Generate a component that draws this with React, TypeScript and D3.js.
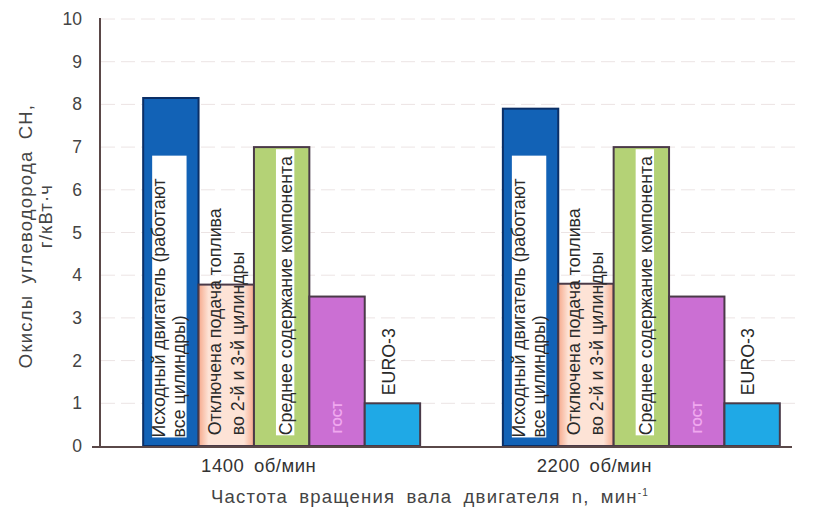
import * as d3 from 'd3';
import React from 'react';

// categories (rotation speed) and the five series per category
const categories = ['1400 об/мин', '2200 об/мин'];
const seriesKeys = ['base', 'cutoff', 'avg', 'gost', 'euro'];
const baseValues = [8.15, 7.9];
const cutoffValues = [3.78, 3.8];
const avgValues = [7.0, 7.0];
const gostValues = [3.5, 3.5];
const euroValues = [1.0, 1.0];
const yTicks = [0, 1, 2, 3, 4, 5, 6, 7, 8, 9, 10];
// category labels sit a bit left of the group centre in the original
const labelShift = [-23, -47];

const seriesValues: any = {
  base: baseValues,
  cutoff: cutoffValues,
  avg: avgValues,
  gost: gostValues,
  euro: euroValues,
};

const fills: any = {
  base: '#1262b6',
  cutoff: 'url(#peachGrad)',
  avg: '#b4d276',
  gost: '#cb6fd3',
  euro: '#1fa9e6',
};

const font = '"Liberation Sans", Arial, sans-serif';

const App = () => {
  const width = 814;
  const height = 516;
  const y = d3.scaleLinear().domain([0, 10]).range([446, 19]);
  const x0 = d3.scaleBand()
    .domain(categories)
    .range([100, 823])
    .paddingInner(0.23)
    .paddingOuter(0.12);
  const x1 = d3.scaleBand()
    .domain(seriesKeys)
    .range([0, x0.bandwidth()])
    .padding(0);

  return (
    <svg width={width} height={height} style={{ position: 'absolute', left: 0, top: 0 }}>
      <defs>
        <linearGradient id="peachGrad" x1="0" x2="1" y1="0" y2="0">
          <stop offset="0" stopColor="#f6a98c" />
          <stop offset="0.18" stopColor="#fde3d6" />
          <stop offset="0.82" stopColor="#fde3d6" />
          <stop offset="1" stopColor="#f6a98c" />
        </linearGradient>
      </defs>
      <rect x={0} y={0} width={width} height={height} fill="#ffffff" />

      {/* faint grid */}
      {yTicks.slice(1).map(t => (
        <line key={'g' + t} x1={101} x2={795} y1={y(t)} y2={y(t)}
          stroke="#ece4e4" strokeWidth={1} strokeDasharray="14 6" />
      ))}

      {/* bars */}
      {categories.map((c, ci) => (
        <g key={c} transform={`translate(${x0(c)},0)`}>
          {seriesKeys.map(k => {
            const v = seriesValues[k][ci];
            const bx = x1(k) as number;
            const bw = x1.bandwidth();
            return (
              <g key={k}>
                <rect x={bx} y={y(v)} width={bw} height={y(0) - y(v)}
                  fill={fills[k]} stroke={k === 'base' ? '#0b2f66' : '#4a3a48'} strokeWidth={2} />
                {k === 'base' && (
                  <rect x={bx + 9} y={y(6.8)} width={bw - 21} height={y(0.2) - y(6.8)} fill="#ffffff" />
                )}
                {k === 'avg' && (
                  <rect x={bx + 22} y={y(6.95)} width={bw - 37} height={y(0.25) - y(6.95)} fill="#ffffff" />
                )}
              </g>
            );
          })}

          {/* in-bar labels */}
          <g fontFamily={font} fontSize={17.8} fill="#2a2a2a">
            <text transform={`translate(${(x1('base') as number) + 22},${y(0.2)}) rotate(-90)`}>Исходный двигатель (работают</text>
            <text transform={`translate(${(x1('base') as number) + 42},${y(0.2)}) rotate(-90)`}>все цилиндры)</text>
            <text transform={`translate(${(x1('cutoff') as number) + 22},${y(0.25)}) rotate(-90)`}>Отключена подача топлива</text>
            <text transform={`translate(${(x1('cutoff') as number) + 45},${y(0.25)}) rotate(-90)`}>во 2-й и 3-й цилиндры</text>
            <text transform={`translate(${(x1('avg') as number) + 38},${y(0.25)}) rotate(-90)`}>Среднее содержание компонента</text>
            <text transform={`translate(${(x1('euro') as number) + 30},${y(euroValues[ci]) - 8}) rotate(-90)`}>EURO-3</text>
          </g>
          <text transform={`translate(${(x1('gost') as number) + 33},${y(0.3)}) rotate(-90)`}
            fontFamily={font} fontSize={12} fontWeight="bold" fill="#f0a8ef">ГОСТ</text>

          <text x={x0.bandwidth() / 2 + labelShift[ci]} y={472} textAnchor="middle"
            fontFamily={font} fontSize={18.5} fill="#333" letterSpacing={0.5} wordSpacing={4}>{c}</text>
        </g>
      ))}

      {/* axes */}
      <line x1={100} x2={100} y1={18} y2={447} stroke="#5a4848" strokeWidth={2} />
      <line x1={92} x2={792} y1={y(0) + 1} y2={y(0) + 1} stroke="#5a4848" strokeWidth={2} />
      {yTicks.map(t => (
        <text key={'t' + t} x={82} y={y(t) + 6} textAnchor="end"
          fontFamily={font} fontSize={17.5} fill="#444">{t}</text>
      ))}

      {/* axis titles */}
      <g fontFamily={font} fontSize={18.5} fill="#444" letterSpacing={1.2} wordSpacing={5}>
        <text transform="translate(32,236) rotate(-90)" textAnchor="middle">Окислы углеводорода СН,</text>
        <text transform="translate(52,216) rotate(-90)" textAnchor="middle">г/кВт·ч</text>
        <text x={430} y={503} textAnchor="middle">
          Частота вращения вала двигателя n, мин<tspan dy={-7} fontSize={10}>-1</tspan>
        </text>
      </g>
    </svg>
  );
};

export default App;
